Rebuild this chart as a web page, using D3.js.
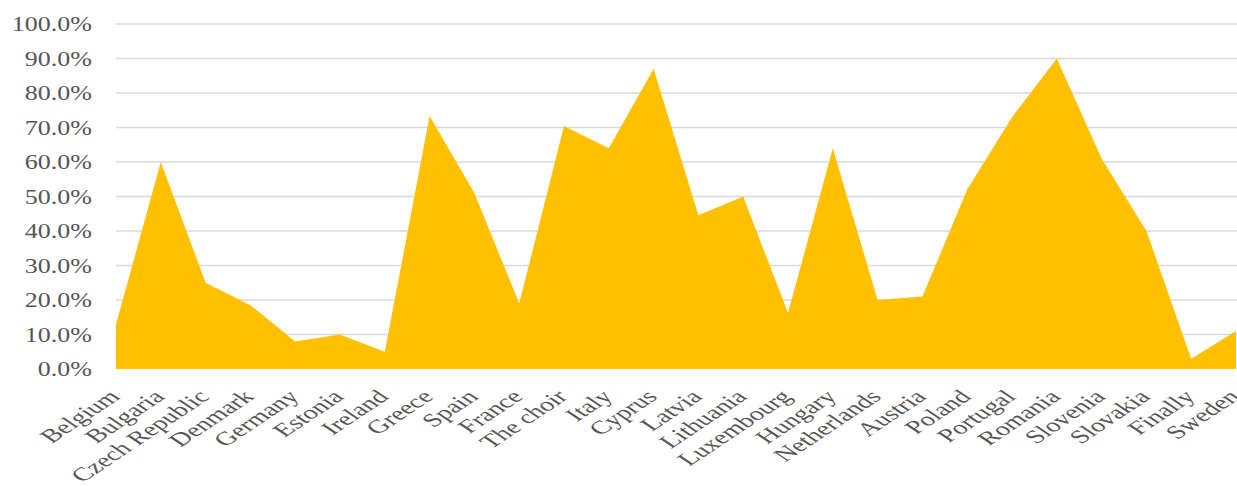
<!DOCTYPE html>
<html>
<head>
<meta charset="utf-8">
<script src="https://cdn.jsdelivr.net/npm/d3@7"></script>
<style>
  body { margin: 0; background: #fff; }
</style>
</head>
<body>
<div id="chart"></div>
<script>
// Area chart: share by country

const countries = ["Belgium", "Bulgaria", "Czech Republic", "Denmark", "Germany", "Estonia",
    "Ireland", "Greece", "Spain", "France", "The choir", "Italy", "Cyprus", "Latvia",
    "Lithuania", "Luxembourg", "Hungary", "Netherlands", "Austria", "Poland", "Portugal",
    "Romania", "Slovenia", "Slovakia", "Finally", "Sweden"];

const shares = [0.13, 0.60, 0.25, 0.185, 0.08, 0.10, 0.05, 0.733, 0.51, 0.19, 0.704, 0.64,
    0.87, 0.446, 0.50, 0.162, 0.64, 0.20, 0.21, 0.52, 0.73, 0.90, 0.61, 0.40, 0.03, 0.11];

const yTicks = [0, 0.1, 0.2, 0.3, 0.4, 0.5, 0.6, 0.7, 0.8, 0.9, 1.0];

const width = 1237;
const height = 486;
// the picture is widened, so the text is too
const yStretch = 1.3;
const xStretch = 1.5;

const svg = d3.select("#chart")
    .append("svg")
    .attr("width", width)
    .attr("height", height);

const x = d3.scalePoint()
    .domain(countries)
    .range([116, 1236]);

const y = d3.scaleLinear()
    .domain([0, 1])
    .range([369, 24]);

// gridlines
svg.append("g")
    .selectAll("line")
    .data(yTicks.filter(d => d > 0))
    .enter().append("line")
    .attr("x1", 116)
    .attr("x2", width)
    .attr("y1", d => y(d))
    .attr("y2", d => y(d))
    .attr("stroke", "#d9d9d9")
    .attr("stroke-width", 1.5);

const area = d3.area()
    .x((d, i) => x(countries[i]))
    .y0(y(0))
    .y1(d => y(d));

svg.append("path")
    .datum(shares)
    .attr("d", area)
    .attr("fill", "#FFC000");

// y labels
svg.append("g")
    .selectAll("text")
    .data(yTicks)
    .enter().append("text")
    .attr("transform", d => `translate(92,${y(d)}) scale(${yStretch},1)`)
    .attr("dy", "0.35em")
    .attr("text-anchor", "end")
    .attr("font-family", "Liberation Serif, Times New Roman, serif")
    .attr("font-size", "20px")
    .attr("fill", "#555")
    .text(d => d3.format(".1%")(d));

// x labels
svg.append("g")
    .selectAll("text")
    .data(countries)
    .enter().append("text")
    .attr("transform", d => `translate(${x(d) - 2},393) scale(${xStretch},1) rotate(-45)`)
    .attr("dy", "0.35em")
    .attr("text-anchor", "end")
    .attr("font-family", "Liberation Serif, Times New Roman, serif")
    .attr("font-size", "19px")
    .attr("fill", "#555")
    .text(d => d);
</script>
</body>
</html>
